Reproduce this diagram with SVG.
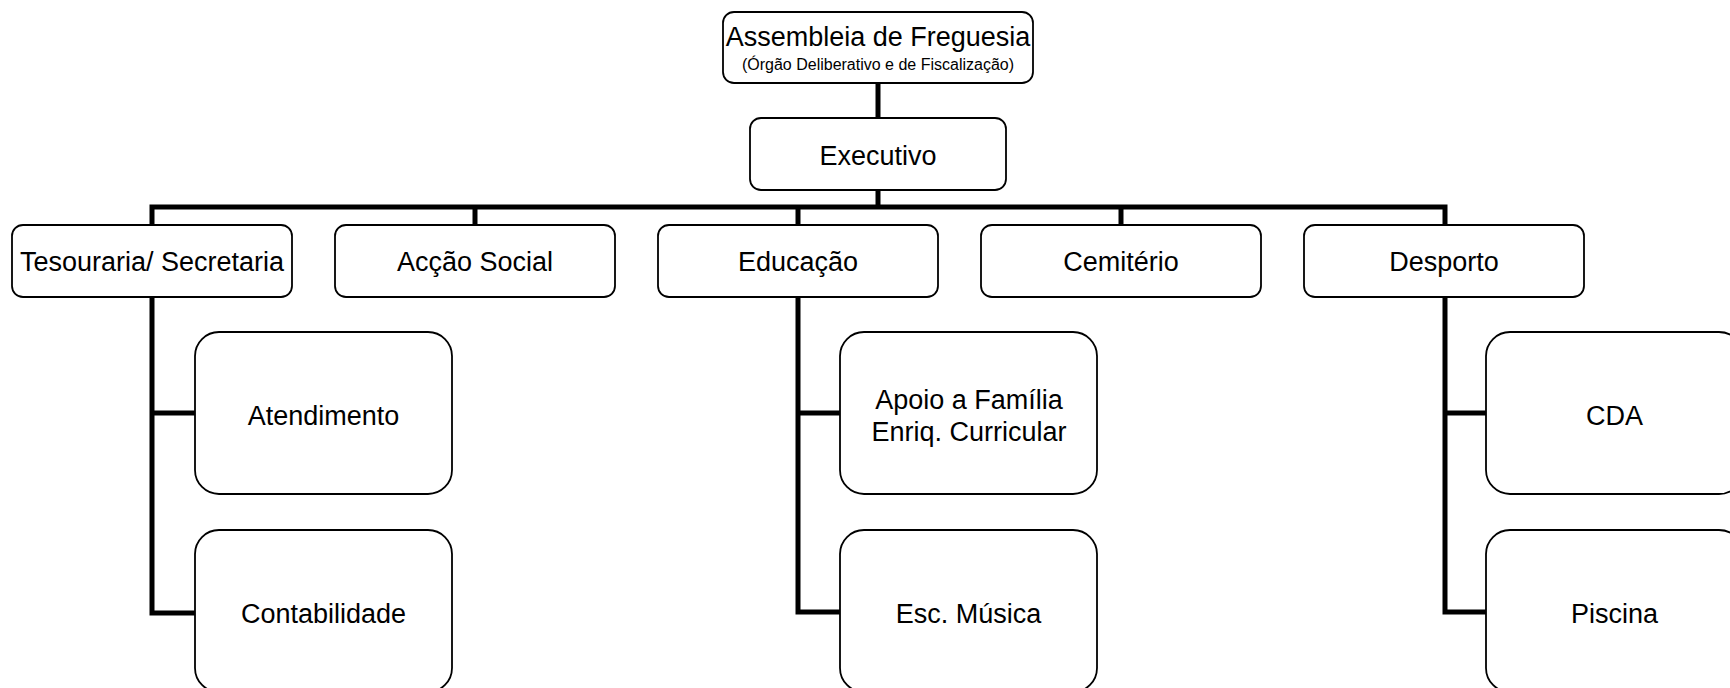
<svg xmlns="http://www.w3.org/2000/svg" width="1730" height="688" viewBox="0 0 1730 688">
<style>
.box{fill:#fff;stroke:#000;stroke-width:1.8}
.t{font-family:"Liberation Sans",Arial,sans-serif;font-size:27px;fill:#000;text-anchor:middle}
.s{font-family:"Liberation Sans",Arial,sans-serif;font-size:16px;fill:#000;text-anchor:middle}
.c{fill:none;stroke:#000;stroke-width:5;stroke-linejoin:miter;stroke-linecap:butt}
</style>
<rect width="1730" height="688" fill="#fff"/>
<g id="connectors">
<path class="c" d="M878 83V118"/>
<path class="c" d="M878 190V207"/>
<path class="c" d="M152 225V207H1445V225"/>
<path class="c" d="M475 207V225"/>
<path class="c" d="M798 207V225"/>
<path class="c" d="M1121 207V225"/>
<path class="c" d="M152 297V613H195M152 413H195"/>
<path class="c" d="M798 297V612H840M798 413H840"/>
<path class="c" d="M1445 297V612H1486M1445 413H1486"/>
</g>
<g id="assembleia">
<rect class="box" x="723" y="12" width="310" height="71" rx="11"/>
<text class="t" x="878" y="46">Assembleia de Freguesia</text>
<text class="s" x="878" y="70">(Órgão Deliberativo e de Fiscalização)</text>
</g>
<g id="executivo">
<rect class="box" x="750" y="118" width="256" height="72" rx="11"/>
<text class="t" x="878" y="165">Executivo</text>
</g>
<g id="tesouraria">
<rect class="box" x="12" y="225" width="280" height="72" rx="11"/>
<text class="t" x="152" y="271">Tesouraria/ Secretaria</text>
</g>
<g id="accao-social">
<rect class="box" x="335" y="225" width="280" height="72" rx="11"/>
<text class="t" x="475" y="271">Acção Social</text>
</g>
<g id="educacao">
<rect class="box" x="658" y="225" width="280" height="72" rx="11"/>
<text class="t" x="798" y="271">Educação</text>
</g>
<g id="cemiterio">
<rect class="box" x="981" y="225" width="280" height="72" rx="11"/>
<text class="t" x="1121" y="271">Cemitério</text>
</g>
<g id="desporto">
<rect class="box" x="1304" y="225" width="280" height="72" rx="11"/>
<text class="t" x="1444" y="271">Desporto</text>
</g>
<g id="atendimento">
<rect class="box" x="195" y="332" width="257" height="162" rx="24"/>
<text class="t" x="323.5" y="424.5">Atendimento</text>
</g>
<g id="contabilidade">
<rect class="box" x="195" y="530" width="257" height="162" rx="24"/>
<text class="t" x="323.5" y="622.5">Contabilidade</text>
</g>
<g id="apoio">
<rect class="box" x="840" y="332" width="257" height="162" rx="24"/>
<text class="t" x="969" y="409">Apoio a Família</text>
<text class="t" x="969" y="441">Enriq. Curricular</text>
</g>
<g id="musica">
<rect class="box" x="840" y="530" width="257" height="162" rx="24"/>
<text class="t" x="968.5" y="622.5">Esc. Música</text>
</g>
<g id="cda">
<rect class="box" x="1486" y="332" width="257" height="162" rx="24"/>
<text class="t" x="1614.5" y="424.5">CDA</text>
</g>
<g id="piscina">
<rect class="box" x="1486" y="530" width="257" height="162" rx="24"/>
<text class="t" x="1614.5" y="622.5">Piscina</text>
</g>
</svg>
